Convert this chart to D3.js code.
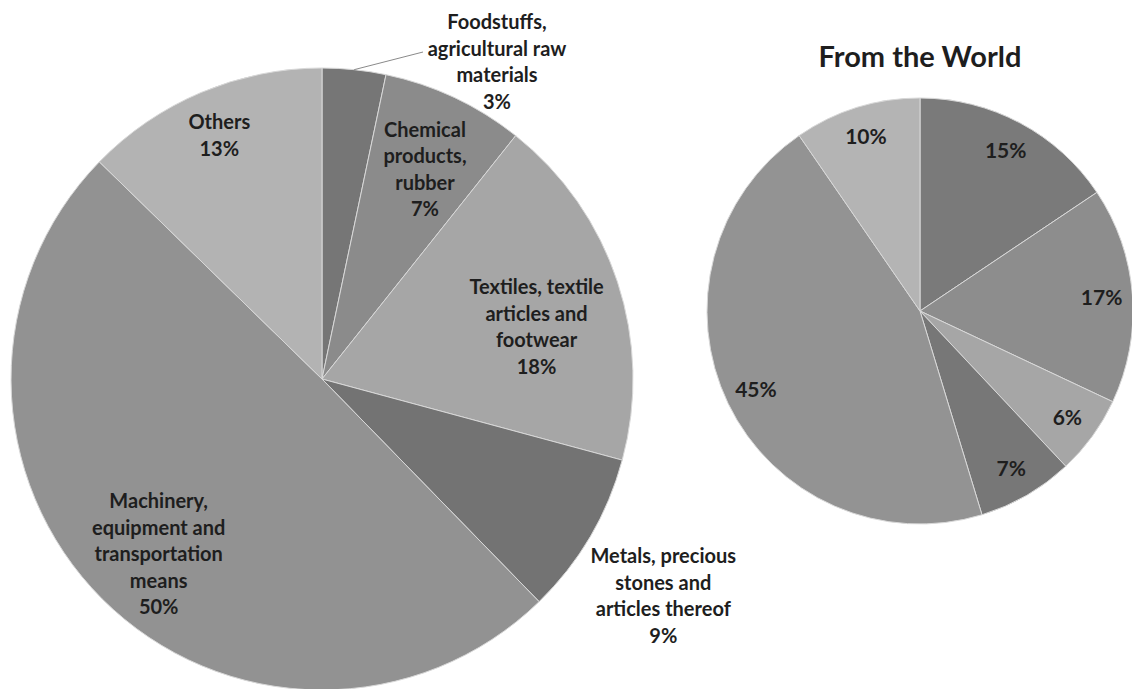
<!DOCTYPE html>
<html>
<head>
<meta charset="utf-8">
<script src="https://cdn.jsdelivr.net/npm/d3@7"></script>
<style>
  html, body { margin: 0; padding: 0; background: #ffffff; }
  svg { display: block; }
  text { font-family: Lato, "Open Sans", sans-serif; font-weight: bold; fill: #1e1e1e; }
</style>
</head>
<body>
<svg id="chart" width="1132" height="689"></svg>
<script>
// ---- data ----
const leftCategories = [
  ["Foodstuffs,", "agricultural raw", "materials"],
  ["Chemical", "products,", "rubber"],
  ["Textiles, textile", "articles and", "footwear"],
  ["Metals, precious", "stones and", "articles thereof"],
  ["Machinery,", "equipment and", "transportation", "means"],
  ["Others"]
];
const leftValues = [3.3, 7.4, 18.5, 8.5, 49.6, 12.7];
const leftLabels = ["3%", "7%", "18%", "9%", "50%", "13%"];

const rightTitle = "From the World";
const rightValues = [15.6, 16.4, 6.0, 7.3, 45.1, 9.6];
const rightLabels = ["15%", "17%", "6%", "7%", "45%", "10%"];

// ---- styling / layout ----
const sliceColors = ["#767676", "#8b8b8b", "#a6a6a6", "#737373", "#929292", "#b3b3b3"];
const rightColors = ["#7a7a7a", "#8d8d8d", "#a6a6a6", "#777777", "#939393", "#b4b4b4"];
// [radial factor, angle offset in degrees] for each left label
const leftLabelLayout = [[1.02, 0], [0.75, 1], [0.71, 4.5], [1.30, 2], [0.77, -2], [0.85, 0]];
const rightLabelFactor = 0.855;
const lineH = 26.5;

const svg = d3.select("#chart");

function drawPie(cx, cy, r, values, colors) {
  const pie = d3.pie().sort(null).value(d => d);
  const arcs = pie(values);
  const arc = d3.arc().innerRadius(0).outerRadius(r);
  const g = svg.append("g").attr("transform", `translate(${cx},${cy})`);
  g.selectAll("path").data(arcs).join("path")
    .attr("d", arc)
    .attr("fill", (d, i) => colors[i])
    .attr("stroke", "#d8d8d8")
    .attr("stroke-width", 1);
  return { g, arcs };
}

function labelPos(d, r, factor, offDeg) {
  const a = (d.startAngle + d.endAngle) / 2 + offDeg * Math.PI / 180;
  return [Math.sin(a) * r * factor, -Math.cos(a) * r * factor];
}

function multiLine(g, x, y, lines, size) {
  const t = g.append("text")
    .attr("text-anchor", "middle")
    .attr("font-size", size);
  const n = lines.length;
  lines.forEach((s, i) => {
    t.append("tspan")
      .attr("x", x)
      .attr("y", y + (i - (n - 1) / 2) * lineH)
      .attr("dy", "0.35em")
      .text(s);
  });
  return t;
}

// ---- left pie ----
const L = { cx: 322, cy: 379, r: 311 };
const left = drawPie(L.cx, L.cy, L.r, leftValues, sliceColors);
left.arcs.forEach((d, i) => {
  const [f, off] = leftLabelLayout[i];
  let [x, y] = labelPos(d, L.r, f, off);
  const lines = leftCategories[i].concat([leftLabels[i]]);
  if (i === 0) {
    // outside label with leader line
    const a = (d.startAngle + d.endAngle) / 2;
    const ex = Math.sin(a) * L.r, ey = -Math.cos(a) * L.r;
    x = 175; y = -317;
    left.g.append("line")
      .attr("x1", ex).attr("y1", ey)
      .attr("x2", 101).attr("y2", -327)
      .attr("stroke", "#8a8a8a").attr("stroke-width", 1);
  }
  multiLine(left.g, x, y, lines, 20);
});

// ---- right pie ----
const R = { cx: 920, cy: 311, r: 213 };
const right = drawPie(R.cx, R.cy, R.r, rightValues, rightColors);
right.arcs.forEach((d, i) => {
  const [x, y] = labelPos(d, R.r, rightLabelFactor, 0);
  multiLine(right.g, x, y, [rightLabels[i]], 21);
});
svg.append("text")
  .attr("x", R.cx).attr("y", 57)
  .attr("dy", "0.35em")
  .attr("text-anchor", "middle")
  .attr("font-size", 29)
  .text(rightTitle);
</script>
</body>
</html>
